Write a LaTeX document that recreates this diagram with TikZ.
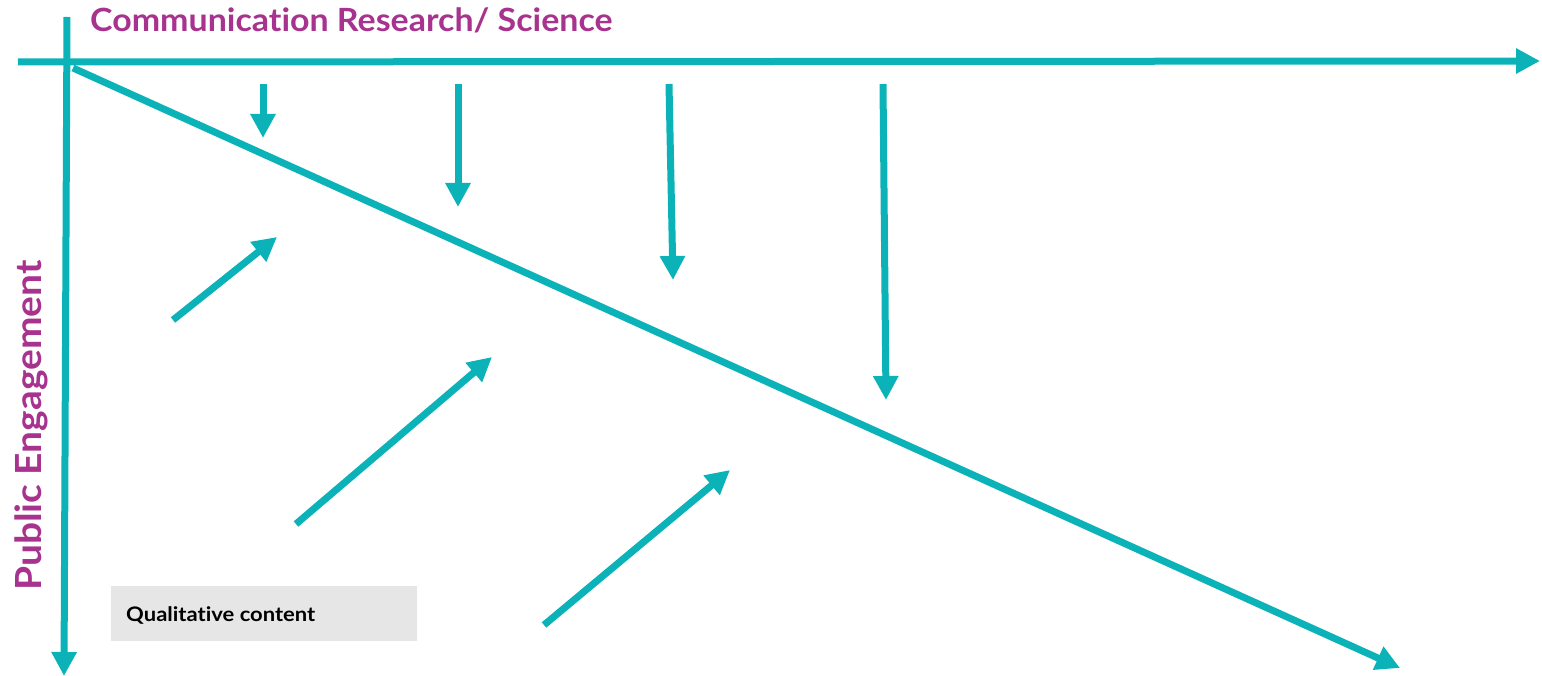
\documentclass[tikz,border=0pt]{standalone}
\usepackage{fontspec}
\setmainfont{Lato}[Ligatures=NoCommon]
\usetikzlibrary{arrows.meta}
\definecolor{teal}{HTML}{0BB3B9}
\definecolor{plum}{HTML}{A7338F}
\definecolor{boxgray}{HTML}{E6E6E6}
\tikzset{
  flow/.style={draw=teal, line width=7pt, line cap=butt,
    -{Triangle[length=24pt,width=24pt]}},
  axislabel/.style={text=plum, inner sep=0pt},
}
\begin{document}
\begin{tikzpicture}[x=1pt,y=-1pt]
\useasboundingbox (0,0) rectangle (1542,676);

% axes
\coordinate (hL) at (18,62);
\coordinate (hR) at (1540,61);
\coordinate (vT) at (67,17);
\coordinate (vB) at (64,676);
\coordinate (dS) at (73,68);
\coordinate (dE) at (1400,668);
\draw[flow] (hL) -- (hR);
\draw[flow] (vT) -- (vB);
\draw[flow] (dS) -- (dE);

% downward arrows from the research axis
\coordinate (a1s) at (263,84);  \coordinate (a1e) at (263,138);
\coordinate (a2s) at (458,84);  \coordinate (a2e) at (458,207);
\coordinate (a3s) at (669,84);  \coordinate (a3e) at (673,280);
\coordinate (a4s) at (883,84);  \coordinate (a4e) at (886,400);
\draw[flow] (a1s) -- (a1e);
\draw[flow] (a2s) -- (a2e);
\draw[flow] (a3s) -- (a3e);
\draw[flow] (a4s) -- (a4e);

% upward arrows from the engagement side
\coordinate (b1s) at (173,320); \coordinate (b1e) at (277,237);
\coordinate (b2s) at (296,524); \coordinate (b2e) at (492,357);
\coordinate (b3s) at (544,625); \coordinate (b3e) at (730,470);
\draw[flow] (b1s) -- (b1e);
\draw[flow] (b2s) -- (b2e);
\draw[flow] (b3s) -- (b3e);

% labels
\node[axislabel, anchor=base west, font=\fontsize{32}{32}\selectfont\bfseries]
  (research) at (90,32) {\scalebox{1.06}[1]{Communication Research/ Science}};
\node[axislabel, anchor=base west, rotate=90, font=\fontsize{36}{36}\selectfont\bfseries]
  (public) at (41,591) {\scalebox{1.08}[1]{Public Engagement}};

% content box
\node[fill=boxgray, minimum width=306pt, minimum height=55pt, inner sep=0pt,
  anchor=north west] (qbox) at (111,586) {};
\node[anchor=base west, inner sep=0pt, font=\fontsize{20}{20}\selectfont\bfseries]
  (qtext) at (126,621) {\scalebox{1.1}[1]{Qualitative content}};
\end{tikzpicture}
\end{document}
